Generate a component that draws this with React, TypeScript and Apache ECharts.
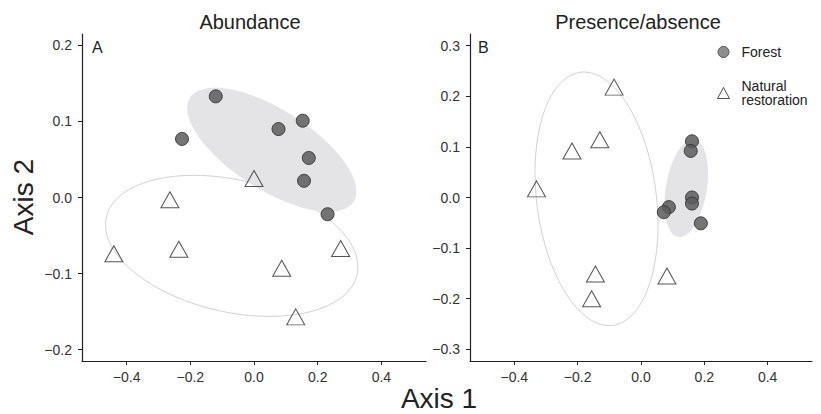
import React, { useEffect, useRef } from "react";
import * as echarts from "echarts";

// ---- Data ----
// Panel A: Abundance
const forestA: number[][] = [
  [-0.12, 0.133],
  [-0.226, 0.077],
  [0.077, 0.09],
  [0.153, 0.101],
  [0.172, 0.052],
  [0.157, 0.022],
  [0.231, -0.022],
];
const naturalA: number[][] = [
  [0.0, 0.025],
  [-0.264, -0.003],
  [-0.236, -0.068],
  [-0.44, -0.074],
  [0.087, -0.093],
  [0.272, -0.067],
  [0.131, -0.157],
];
// Panel B: Presence/absence
const forestB: number[][] = [
  [0.161, 0.111],
  [0.157, 0.092],
  [0.161, 0.0],
  [0.161, -0.012],
  [0.088, -0.019],
  [0.072, -0.029],
  [0.189, -0.051],
];
const naturalB: number[][] = [
  [-0.085, 0.218],
  [-0.13, 0.114],
  [-0.218, 0.092],
  [-0.33, 0.017],
  [-0.144, -0.151],
  [-0.156, -0.2],
  [0.082, -0.155],
];
// Ellipses: [centerX, centerY, axis1X, axis1Y, axis2X, axis2Y] in data units
const ellipseForestA = [0.0557, 0.0628, 0.2569, -0.0683, -0.0674, -0.0445];
const ellipseNaturalA = [-0.07, -0.0636, 0.3934, -0.038, -0.0466, -0.0846];
const ellipseForestB = [0.143, 0.018, 0.0259, 0.096, 0.0637, -0.0067];
const ellipseNaturalB = [-0.1405, -0.0026, 0.051, -0.25, 0.1874, 0.015];

const xTicks = [-0.4, -0.2, 0.0, 0.2, 0.4];
const yTicksA = [-0.2, -0.1, 0.0, 0.1, 0.2];
const yTicksB = [-0.3, -0.2, -0.1, 0.0, 0.1, 0.2, 0.3];

const FONT = "'Liberation Sans', Arial, Helvetica, sans-serif";
const fmt = (v: number) => {
  const s = Math.abs(v).toFixed(1);
  return v < -1e-9 ? "\u2212" + s : s;
};

function ellipseSeries(params: number[], idx: number, filled: boolean) {
  return {
    type: "custom",
    xAxisIndex: idx,
    yAxisIndex: idx,
    silent: true,
    z: 1,
    data: [params],
    renderItem: (_p: any, api: any) => {
      const cx = api.value(0), cy = api.value(1);
      const ux = api.value(2), uy = api.value(3);
      const vx = api.value(4), vy = api.value(5);
      const pts: number[][] = [];
      const N = 120;
      for (let i = 0; i < N; i++) {
        const t = (2 * Math.PI * i) / N;
        const c = Math.cos(t), s = Math.sin(t);
        pts.push(api.coord([cx + ux * c + vx * s, cy + uy * c + vy * s]));
      }
      return {
        type: "polygon",
        shape: { points: pts },
        style: filled
          ? { fill: "#e4e4e6", stroke: "none" }
          : { fill: "none", stroke: "#d2d2d2", lineWidth: 1 },
      };
    },
  };
}

const circleStyle = {
  color: "#5c5c5c",
  opacity: 0.85,
  borderColor: "#2e2e2e",
  borderWidth: 1,
};
const triStyle = {
  color: "rgba(255,255,255,0)",
  borderColor: "#2a2a2a",
  borderWidth: 1,
};

function xAxis(gridIndex: number) {
  return {
    type: "value",
    gridIndex,
    min: -0.54,
    max: 0.54,
    splitLine: { show: false },
    axisLine: { show: true, onZero: false, lineStyle: { color: "#222", width: 1.2 } },
    axisTick: { show: true, length: 4, lineStyle: { color: "#222" }, customValues: xTicks },
    axisLabel: {
      color: "#333",
      fontSize: 14,
      fontFamily: FONT,
      margin: 9,
      customValues: xTicks,
      formatter: (v: number) => fmt(v),
    },
  };
}
function yAxis(gridIndex: number, lim: number, ticks: number[]) {
  return {
    type: "value",
    gridIndex,
    min: -lim,
    max: lim,
    splitLine: { show: false },
    axisLine: { show: true, onZero: false, lineStyle: { color: "#222", width: 1.2 } },
    axisTick: { show: true, length: 4, lineStyle: { color: "#222" }, customValues: ticks },
    axisLabel: {
      color: "#333",
      fontSize: 14,
      fontFamily: FONT,
      margin: 10,
      customValues: ticks,
      formatter: (v: number) => fmt(v),
    },
  };
}

export default function App() {
  const ref = useRef<HTMLDivElement>(null);
  useEffect(() => {
    if (!ref.current) return;
    const chart = echarts.init(ref.current, undefined, { renderer: "svg" });
    const option: any = {
      animation: false,
      backgroundColor: "#ffffff",
      grid: [
        { left: 82, top: 34, width: 344, height: 327 },
        { left: 470, top: 34, width: 342, height: 327 },
      ],
      xAxis: [xAxis(0), xAxis(1)],
      yAxis: [yAxis(0, 0.215, yTicksA), yAxis(1, 0.323, yTicksB)],
      legend: {
        orient: "vertical",
        left: 717,
        top: 45,
        padding: 0,
        itemWidth: 12,
        itemHeight: 11,
        itemGap: 20,
        selectedMode: false,
        textStyle: {
          fontFamily: FONT,
          fontSize: 14,
          lineHeight: 14,
          color: "#222",
          padding: [0, 0, 0, 7],
        },
        formatter: (name: string) =>
          name === "Natural restoration" ? "Natural\nrestoration" : name,
        data: [
          {
            name: "Forest",
            icon: "circle",
            itemStyle: { color: "#8e8e8e", borderColor: "#555", borderWidth: 1, opacity: 1 },
          },
          {
            name: "Natural restoration",
            icon: "triangle",
            itemStyle: { color: "rgba(255,255,255,0)", borderColor: "#222", borderWidth: 1 },
          },
        ],
      },
      graphic: [
        {
          type: "text",
          x: 250,
          y: 22,
          style: { text: "Abundance", font: `20px ${FONT}`, fill: "#222", align: "center", verticalAlign: "middle" },
        },
        {
          type: "text",
          x: 638,
          y: 22,
          style: { text: "Presence/absence", font: `20px ${FONT}`, fill: "#222", align: "center", verticalAlign: "middle" },
        },
        {
          type: "text",
          x: 92,
          y: 47,
          style: { text: "A", font: `16px ${FONT}`, fill: "#222", align: "left", verticalAlign: "middle" },
        },
        {
          type: "text",
          x: 478,
          y: 47,
          style: { text: "B", font: `16px ${FONT}`, fill: "#222", align: "left", verticalAlign: "middle" },
        },
        {
          type: "text",
          x: 23,
          y: 197,
          rotation: Math.PI / 2,
          style: { text: "Axis 2", font: `28px ${FONT}`, fill: "#222", align: "center", verticalAlign: "middle" },
        },
        {
          type: "text",
          x: 439,
          y: 398,
          style: { text: "Axis 1", font: `28px ${FONT}`, fill: "#222", align: "center", verticalAlign: "middle" },
        },
      ],
      series: [
        ellipseSeries(ellipseNaturalA, 0, false),
        ellipseSeries(ellipseForestA, 0, true),
        ellipseSeries(ellipseNaturalB, 1, false),
        ellipseSeries(ellipseForestB, 1, true),
        {
          type: "scatter",
          name: "Forest",
          xAxisIndex: 0,
          yAxisIndex: 0,
          symbol: "circle",
          symbolSize: 13,
          itemStyle: circleStyle,
          z: 3,
          silent: true,
          data: forestA,
        },
        {
          type: "scatter",
          name: "Natural restoration",
          xAxisIndex: 0,
          yAxisIndex: 0,
          symbol: "triangle",
          symbolSize: [18, 16],
          itemStyle: triStyle,
          z: 3,
          silent: true,
          data: naturalA,
        },
        {
          type: "scatter",
          name: "Forest",
          xAxisIndex: 1,
          yAxisIndex: 1,
          symbol: "circle",
          symbolSize: 13,
          itemStyle: circleStyle,
          z: 3,
          silent: true,
          data: forestB,
        },
        {
          type: "scatter",
          name: "Natural restoration",
          xAxisIndex: 1,
          yAxisIndex: 1,
          symbol: "triangle",
          symbolSize: [18, 16],
          itemStyle: triStyle,
          z: 3,
          silent: true,
          data: naturalB,
        },
      ],
    };
    chart.setOption(option);
    return () => chart.dispose();
  }, []);
  return (
    <div
      ref={ref}
      style={{ position: "fixed", left: 0, top: 0, width: 821, height: 414, background: "#fff" }}
    />
  );
}
